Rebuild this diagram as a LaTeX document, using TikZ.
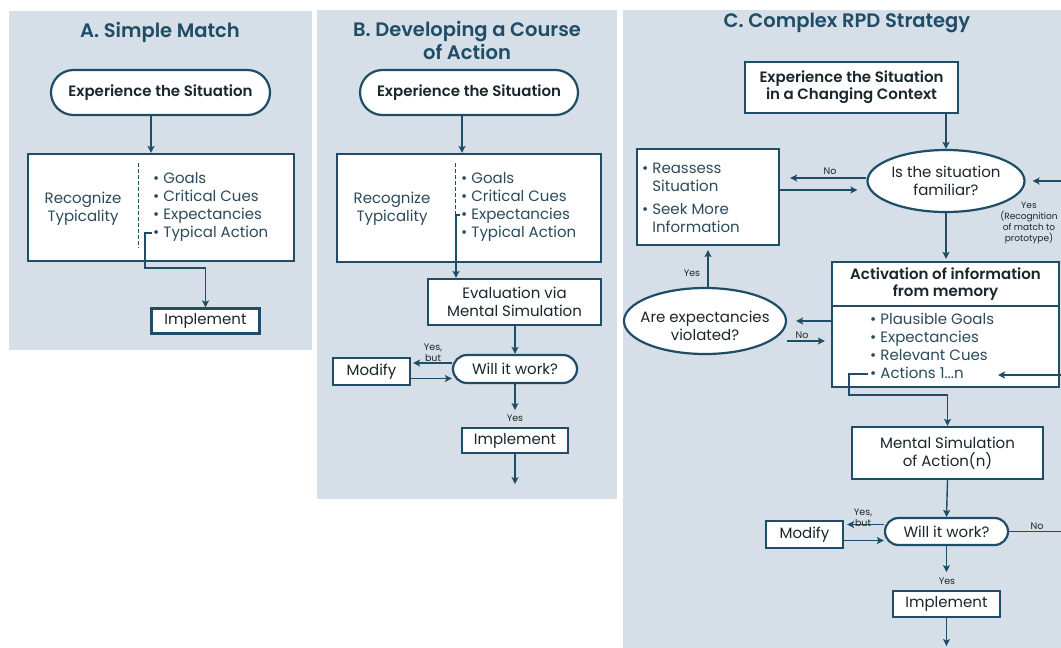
\documentclass[tikz,border=0pt]{standalone}
\usepackage{fontspec}
\setmainfont{Poppins}[BoldFont={Poppins SemiBold}]
\usetikzlibrary{arrows.meta,shapes.geometric,shapes.misc,calc}
\definecolor{panelbg}{HTML}{D6DFE7}
\definecolor{ink}{HTML}{1F4D68}
\definecolor{txt}{HTML}{2B4A5C}
\definecolor{dark}{HTML}{1B262C}
\begin{document}
\begin{tikzpicture}[x=1pt,y=-1pt,
  title/.style={font=\bfseries\fontsize{19.5}{23}\selectfont,text=ink,align=center,inner sep=0pt},
  box/.style={draw=ink,line width=2.2pt,fill=white,inner sep=0pt},
  pill/.style={box,rounded rectangle},
  oval/.style={box,ellipse},
  lbl/.style={font=\fontsize{15}{18}\selectfont,text=txt,align=center,inner sep=0pt},
  blist/.style={lbl,align=left,anchor=west},
  blbl/.style={font=\bfseries\fontsize{15}{17}\selectfont,text=dark,align=center,inner sep=0pt},
  tiny/.style={font=\fontsize{9.5}{11}\selectfont,text=dark,align=center,inner sep=0pt},
  flow/.style={draw=ink,line width=1.4pt,-{Stealth[length=7pt,width=7pt,inset=1.5pt]}},
  wire/.style={draw=ink,line width=1.4pt},
  divider/.style={draw=ink,line width=0.7pt,dash pattern=on 4pt off 2pt},
]
\useasboundingbox (0,0) rectangle (1061,648);
\clip (0,0) rectangle (1061,648);

% ---------- panel backgrounds
\fill[panelbg] (9,11) rectangle (312,350);
\fill[panelbg] (317,10) rectangle (617,499);
\fill[panelbg] (623,10) rectangle (1061,648);

% ================= A. Simple Match
\node[title] (tA) at (160,32) {A. Simple Match};
\node[pill,blbl,minimum width=219pt,minimum height=45pt] (eA) at (160.5,92.5) {Experience the Situation};
\node[box,minimum width=266pt,minimum height=107pt] (rA) at (161,207.5) {};
\node[lbl] (kA) at (83,209) {Recognize\\Typicality};
\draw[divider] (138,163) -- (138,248);
\node[blist] (lA) at (153,206.5) {\textbullet\ Goals\\\textbullet\ Critical Cues\\\textbullet\ Expectancies\\\textbullet\ Typical Action};
\node[box,lbl,text=dark,minimum width=108pt,minimum height=25pt] (iA) at (205.5,321) {Implement};
\coordinate (sA) at (152,233);
\draw[flow] ([xshift=-9.5pt]eA.south) -- ([xshift=-9.5pt]eA.south |- rA.north);
\draw[flow] (sA) -- ++(-7,0) -- ++(0,35) -| (iA.north);

% ================= B. Developing a Course of Action
\node[title] (tB) at (467,40.5) {B. Developing a Course\\of Action};
\node[pill,blbl,minimum width=218pt,minimum height=45pt] (eB) at (469,92.5) {Experience the Situation};
\node[box,minimum width=264pt,minimum height=108pt] (rB) at (469,208) {};
\node[lbl] (kB) at (392,209) {Recognize\\Typicality};
\draw[divider] (455,163) -- (455,252);
\node[blist] (lB) at (461,206.5) {\textbullet\ Goals\\\textbullet\ Critical Cues\\\textbullet\ Expectancies\\\textbullet\ Typical Action};
\node[box,lbl,text=dark,minimum width=173pt,minimum height=46pt] (vB) at (514.5,302) {Evaluation via\\Mental Simulation};
\node[pill,lbl,text=dark,minimum width=124pt,minimum height=28pt] (wB) at (515,369) {Will it work?};
\node[box,lbl,text=dark,minimum width=77pt,minimum height=27pt] (mB) at (371.5,371.5) {Modify};
\node[box,lbl,text=dark,minimum width=106pt,minimum height=25pt] (iB) at (515,440.5) {Implement};
\coordinate (sB) at (460,215);
\draw[flow] ([xshift=-7pt]eB.south) -- ([xshift=-7pt]eB.south |- rB.north);
\draw[flow] (sB) -- ++(-4,0) coordinate (cB) -- (cB |- vB.north);
\draw[flow] (vB.south -| wB.north) -- (wB.north);
\draw[flow,shorten >=2pt] ([yshift=6pt]wB.west) -- ([yshift=6pt]wB.west -| mB.east);
\node[tiny] at (433,352.5) {Yes,\\but};
\draw[flow] ([yshift=-7pt]mB.east) -- ([yshift=-7pt]mB.east -| wB.west);
\draw[flow,shorten >=2pt] (wB.south) -- ++(0,28) coordinate (yB);
\node[tiny] at (515,418) {Yes};
\draw[flow] (iB.south) -- ++(0,30) coordinate (endB);

% ================= C. Complex RPD Strategy
\node[title] (tC) at (847,23) {C. Complex RPD Strategy};
\node[box,blbl,minimum width=213pt,minimum height=51pt] (eC) at (851.5,87.5) {Experience the Situation\\in a Changing Context};
\node[oval,lbl,text=dark,minimum width=157pt,minimum height=62pt] (fam) at (946,181) {Is the situation\\familiar?};
\node[box,minimum width=142pt,minimum height=96pt] (rs) at (708,197) {};
\node[blist] (rsl) at (642,198) {\textbullet\ Reassess\\\phantom{\textbullet\ }Situation\\[5pt]\textbullet\ Seek More\\\phantom{\textbullet\ }Information};
\node[tiny,font=\fontsize{9}{11}\selectfont] (yC) at (1029,223.5) {Yes\\(Recognition\\of match to\\prototype)};

\node[box,blbl,minimum width=227pt,minimum height=44pt] (hd) at (945.5,284) {Activation of information\\from memory};
\node[box,minimum width=227pt,minimum height=81pt] (bd) at (945.5,346.5) {};
\node[blist] (bdl) at (870,346) {\textbullet\ Plausible Goals\\\textbullet\ Expectancies\\\textbullet\ Relevant Cues\\\textbullet\ Actions 1...n};
\node[oval,minimum width=162pt,minimum height=66pt] (ex) at (705,321) {};
\node[lbl,text=dark] (exl) at (705,326) {Are expectancies\\violated?};

\node[box,lbl,text=dark,minimum width=191pt,minimum height=52pt] (ms) at (947.5,453) {Mental Simulation\\of Action(n)};
\node[pill,lbl,text=dark,minimum width=123pt,minimum height=27pt] (wC) at (946.5,531.5) {Will it work?};
\node[box,lbl,text=dark,minimum width=77pt,minimum height=27pt] (mC) at (804.5,534.5) {Modify};
\node[box,lbl,text=dark,minimum width=107pt,minimum height=26pt] (iC) at (946.5,604) {Implement};

% connectors of panel C
\draw[flow] (fam.north |- eC.south) -- (fam.north);
\draw[flow,shorten >=10pt] ([yshift=3pt]fam.west) -- ([yshift=3pt]fam.west -| rs.east);
\node[tiny] at (830,171) {No};
\draw[flow,shorten >=9pt] ([yshift=-9pt]fam.west -| rs.east) -- ([yshift=-9pt]fam.west);
\draw[flow,shorten >=2pt] (fam.south) -- (fam.south |- hd.north);

\draw[flow,shorten >=9pt] (bd.west |- ex.east) -- (ex.east);
\draw[flow,shorten >=6pt] ([yshift=-20pt]ex.east) -- ([yshift=-20pt]ex.east -| bd.west);
\node[tiny] at (802,335) {No};
\draw[flow,shorten >=4pt] ([xshift=3pt]ex.north) -- ([xshift=3pt]ex.north |- rs.south);
\node[tiny] at (692,273) {Yes};

\coordinate (sC) at (868,374);
\draw[flow] (sC) -- ++(-19,0) -- ++(0,21) -| (ms.north);
\draw[flow] (ms.south) -- (wC.north);
\draw[flow,shorten >=3pt] ([yshift=7pt]wC.west) -- ([yshift=7pt]wC.west -| mC.east);
\node[tiny] at (863,517.5) {Yes,\\but};
\draw[flow] ([yshift=-6pt]mC.east) -- ([yshift=-6pt]mC.east -| wC.west);
\draw[flow,shorten >=2pt] (wC.south) -- ++(0,28) coordinate (yCc);
\node[tiny] at (947,581) {Yes};
\draw[flow] (iC.south) -- ++(0,28) coordinate (endC);

% "No" loop back along the right edge
\coordinate (aC) at (998,375);
\draw[wire] (wC.east) -- ++(70,0) coordinate (cR) -- (cR |- fam.east);
\node[tiny] at (1037,526) {No};
\draw[flow,shorten >=7pt] (cR |- fam.east) -- (fam.east);
\draw[flow] (cR |- aC) -- (aC);
\end{tikzpicture}
\end{document}
